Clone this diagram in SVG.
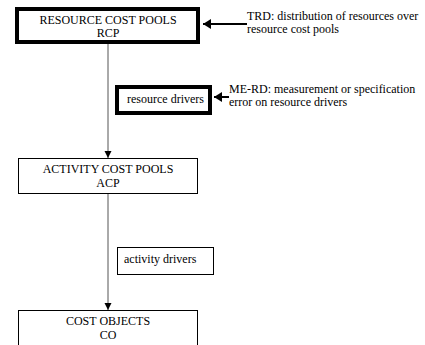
<svg xmlns="http://www.w3.org/2000/svg" width="425" height="345" viewBox="0 0 425 345">
  <style>
    text { font-family: "Liberation Serif", "Times New Roman", serif; font-size: 12px; fill: #000; }
    .mid { text-anchor: middle; }
    .box { fill: #fff; stroke: #000; stroke-width: 1; }
    .thick { fill: #fff; stroke: #000; stroke-width: 4; }
    .flow { stroke: #555; stroke-width: 1; fill: none; }
    .err { stroke: #000; stroke-width: 2; fill: none; }
  </style>
  <defs>
    <marker id="tri" markerWidth="8" markerHeight="8" refX="7" refY="4" orient="auto" markerUnits="userSpaceOnUse">
      <path d="M0,0.5 L7,4 L0,7.5 Z" fill="#000"/>
    </marker>
    <marker id="triBig" markerWidth="10" markerHeight="10" refX="8" refY="5" orient="auto" markerUnits="userSpaceOnUse">
      <path d="M0,0 L8,5 L0,10 Z" fill="#000"/>
    </marker>
  </defs>
  <rect width="425" height="345" fill="#fff"/>

  <!-- cost flow connectors and error annotations -->
  <g id="connectors">
    <line class="flow" x1="108" y1="44" x2="108" y2="158" marker-end="url(#tri)"/>
    <line class="flow" x1="108" y1="194" x2="108" y2="310" marker-end="url(#tri)"/>
    <line class="err" x1="247" y1="24" x2="203" y2="24" marker-end="url(#triBig)"/>
    <line class="err" x1="229" y1="97" x2="214" y2="97" marker-end="url(#triBig)"/>
  </g>

  <g id="rcp" font-family="Liberation Serif">
    <rect class="thick" x="17" y="9" width="181" height="33"/>
    <text class="mid" x="108" y="24">RESOURCE COST POOLS</text>
    <text class="mid" x="108" y="37">RCP</text>
  </g>

  <g id="resource-drivers" font-family="Liberation Serif">
    <rect class="thick" x="117" y="87" width="93" height="26"/>
    <text x="127" y="103">resource drivers</text>
  </g>

  <g id="acp" font-family="Liberation Serif">
    <rect class="box" x="18.5" y="158.5" width="179" height="35"/>
    <text class="mid" x="108" y="173">ACTIVITY COST POOLS</text>
    <text class="mid" x="108" y="186.5">ACP</text>
  </g>

  <g id="activity-drivers" font-family="Liberation Serif">
    <rect class="box" x="117.5" y="247.5" width="96" height="27"/>
    <text x="124" y="263">activity drivers</text>
  </g>

  <g id="co" font-family="Liberation Serif">
    <rect class="box" x="18.5" y="310.5" width="179" height="45"/>
    <text class="mid" x="108" y="325">COST OBJECTS</text>
    <text class="mid" x="108" y="338.5">CO</text>
  </g>

  <g id="trd-note" font-family="Liberation Serif">
    <text x="247" y="20">TRD: distribution of resources over</text>
    <text x="247" y="33">resource cost pools</text>
  </g>

  <g id="merd-note" font-family="Liberation Serif">
    <text x="229" y="93">ME-RD: measurement or specification</text>
    <text x="229" y="106">error on resource drivers</text>
  </g>
</svg>
